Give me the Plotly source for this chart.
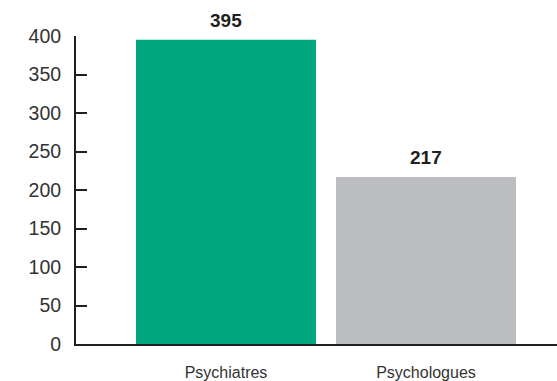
import plotly.graph_objects as go

# Effectifs par profession
categories = ["Psychiatres", "Psychologues"]
values = [395, 217]
bar_colors = ["#00a67e", "#bdbec1"]
y_ticks = [0, 50, 100, 150, 200, 250, 300, 350, 400]

axis_color = "#231f20"
text_color = "#333333"

fig = go.Figure(
    go.Bar(
        x=categories,
        y=values,
        marker=dict(color=bar_colors, line=dict(width=0)),
        width=0.9,
        hoverinfo="skip",
    )
)

# Valeurs affichées au-dessus des barres
for cat, val in zip(categories, values):
    fig.add_annotation(
        x=cat, y=val, text=f"<b>{val}</b>", showarrow=False,
        yanchor="bottom", yshift=7,
        font=dict(family="Liberation Sans, Arial, sans-serif", size=19, color=axis_color),
    )

fig.update_layout(
    width=557, height=381,
    margin=dict(l=76, r=0, t=36, b=35),
    paper_bgcolor="white", plot_bgcolor="white",
    showlegend=False,
    font=dict(family="Liberation Sans, Arial, sans-serif", color=text_color),
    xaxis=dict(
        type="category",
        range=[-0.75, 1.655],
        showline=True, linecolor=axis_color, linewidth=2,
        ticks="", showgrid=False, zeroline=False,
        tickfont=dict(size=16, color=text_color),
        ticklabelstandoff=13,
    ),
    yaxis=dict(
        range=[0, 400],
        tickvals=y_ticks,
        showline=True, linecolor=axis_color, linewidth=2,
        ticks="inside", ticklen=11, tickwidth=2, tickcolor=axis_color,
        showgrid=False, zeroline=False,
        tickfont=dict(size=19.5, color=text_color),
        ticklabelstandoff=9,
    ),
)

fig.write_html("out.html")
